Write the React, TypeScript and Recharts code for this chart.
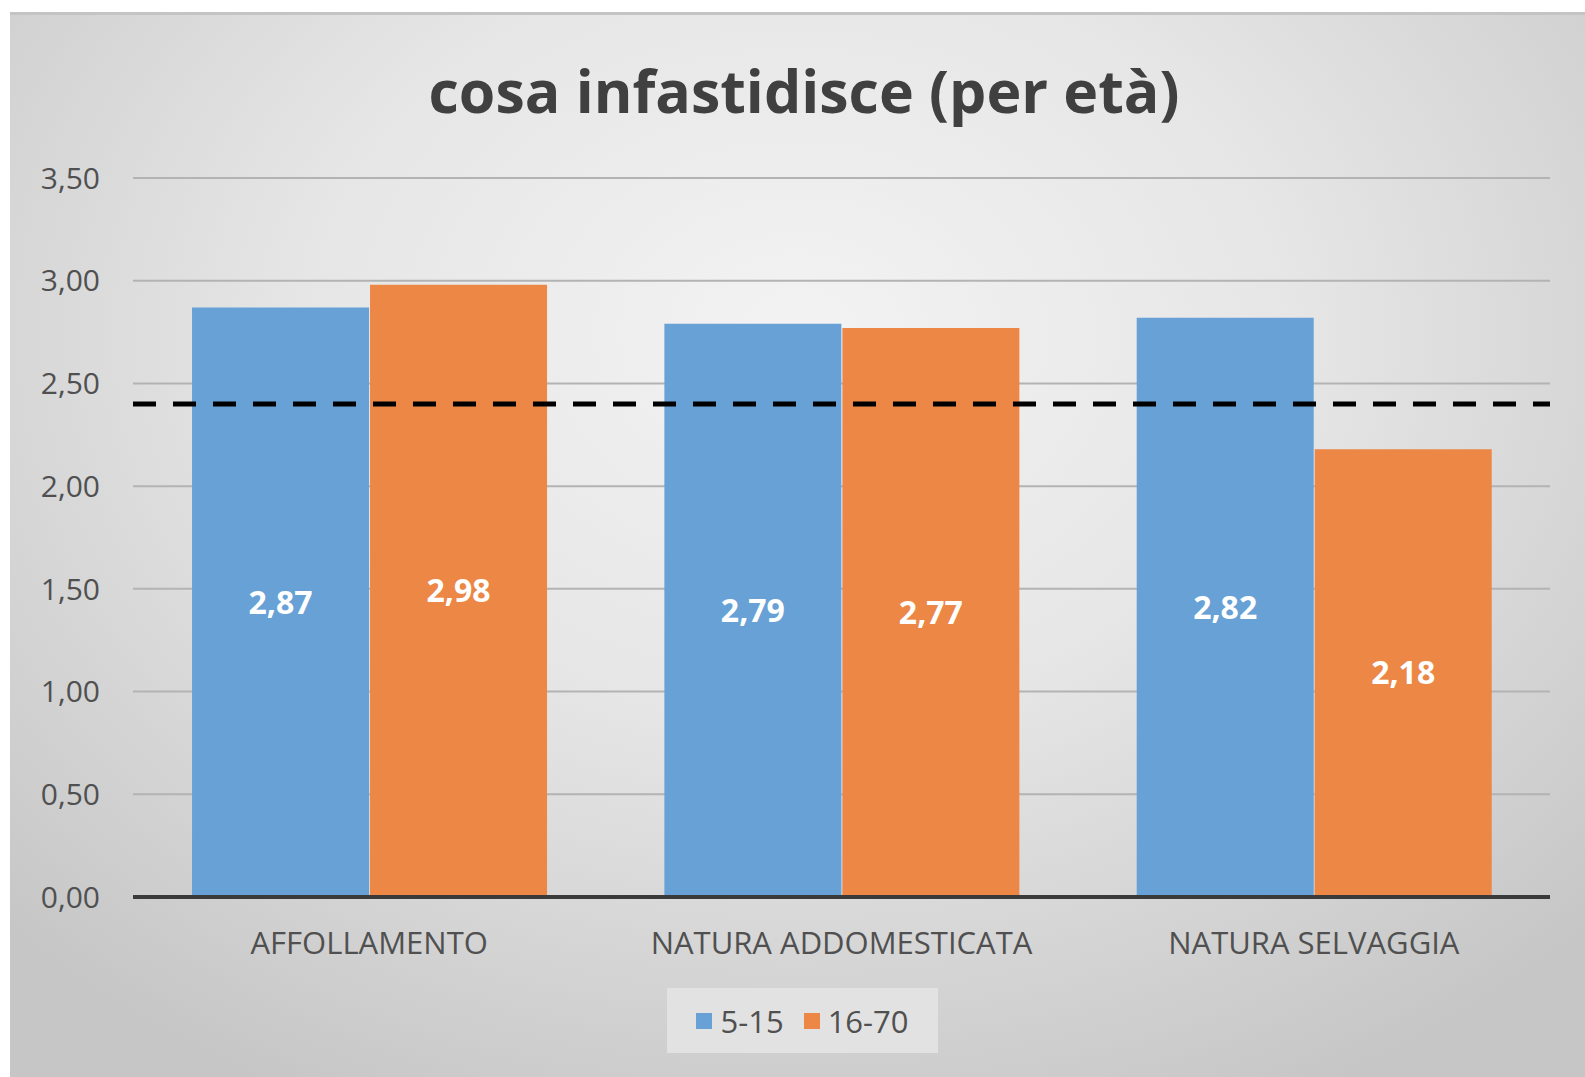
import { BarChart, Bar, XAxis, YAxis, CartesianGrid, ReferenceLine, LabelList } from 'recharts';

const categories = ['AFFOLLAMENTO', 'NATURA ADDOMESTICATA', 'NATURA SELVAGGIA'];
const young = [2.87, 2.79, 2.82];
const adult = [2.98, 2.77, 2.18];
const yTicks = [0, 0.5, 1, 1.5, 2, 2.5, 3, 3.5];
const threshold = 2.4;

const seriesNames = { young: '5-15', adult: '16-70' };
const BLUE = '#67a1d6';
const ORANGE = '#ec8746';
const FONT = '"Open Sans", "Noto Sans", sans-serif';

const data = categories.map((name, i) => ({ name, young: young[i], adult: adult[i] }));

const fmt = (v: number) => v.toFixed(2).replace('.', ',');

const App = () => {
  return (
    <div
      style={{
        position: 'absolute',
        left: 0,
        top: 0,
        width: 1585,
        height: 1077,
        background: '#ffffff',
        overflow: 'hidden',
        fontFamily: FONT,
      }}
    >
      <div
        style={{
          position: 'absolute',
          left: 10,
          top: 12,
          width: 1575,
          height: 1065,
          borderTop: '3px solid #c4c4c4',
          background: 'radial-gradient(ellipse 70% 80% at 50% 30%, #f3f3f3 0%, #e6e6e6 45%, #cfcfcf 85%, #c6c6c6 100%)',
        }}
      />
      <div
        style={{
          position: 'absolute',
          left: 0,
          top: 52,
          width: 1608,
          textAlign: 'center',
          fontSize: 59,
          fontWeight: 700,
          color: '#404040',
          lineHeight: '76px',
        }}
      >
        cosa infastidisce (per età)
      </div>
      <div style={{ position: 'absolute', left: 0, top: 0 }}>
        <BarChart
          width={1585}
          height={1077}
          data={data}
          margin={{ top: 178, right: 35, bottom: 120, left: 0 }}
          barCategoryGap="12.5%"
          barGap={1}
        >
          <CartesianGrid vertical={false} stroke="#b3b3b3" strokeWidth={2} />
          <XAxis
            dataKey="name"
            axisLine={{ stroke: '#3a3a3a', strokeWidth: 4 }}
            tickLine={false}
            tickSize={0}
            tickMargin={35}
            height={60}
            tick={{ fill: '#505050', fontSize: 31, fontFamily: FONT }}
          />
          <YAxis
            width={133}
            domain={[0, 3.5]}
            ticks={yTicks}
            axisLine={false}
            tickLine={false}
            tickSize={0}
            tickMargin={33}
            tickFormatter={fmt}
            tick={{ fill: '#505050', fontSize: 30, fontFamily: FONT }}
          />
          <Bar dataKey="young" name={seriesNames.young} fill={BLUE} isAnimationActive={false}>
            <LabelList
              dataKey="young"
              position="center"
              formatter={(v: number) => fmt(v)}
              fill="#ffffff"
              fontSize={32}
              fontWeight={700}
              fontFamily={FONT}
            />
          </Bar>
          <Bar dataKey="adult" name={seriesNames.adult} fill={ORANGE} isAnimationActive={false}>
            <LabelList
              dataKey="adult"
              position="center"
              formatter={(v: number) => fmt(v)}
              fill="#ffffff"
              fontSize={32}
              fontWeight={700}
              fontFamily={FONT}
            />
          </Bar>
          <ReferenceLine y={threshold} stroke="#000000" strokeWidth={5} strokeDasharray="23 17" />
        </BarChart>
      </div>
      <div
        style={{
          position: 'absolute',
          left: 667,
          top: 988,
          width: 271,
          height: 65,
          background: '#e2e2e2',
          display: 'flex',
          alignItems: 'center',
          justifyContent: 'center',
          gap: 20,
          fontSize: 31,
          color: '#505050',
        }}
      >
        <span style={{ display: 'flex', alignItems: 'center', gap: 8 }}>
          <span style={{ width: 16, height: 16, background: BLUE, display: 'inline-block' }} />
          {seriesNames.young}
        </span>
        <span style={{ display: 'flex', alignItems: 'center', gap: 8 }}>
          <span style={{ width: 16, height: 16, background: ORANGE, display: 'inline-block' }} />
          {seriesNames.adult}
        </span>
      </div>
    </div>
  );
};

export default App;
